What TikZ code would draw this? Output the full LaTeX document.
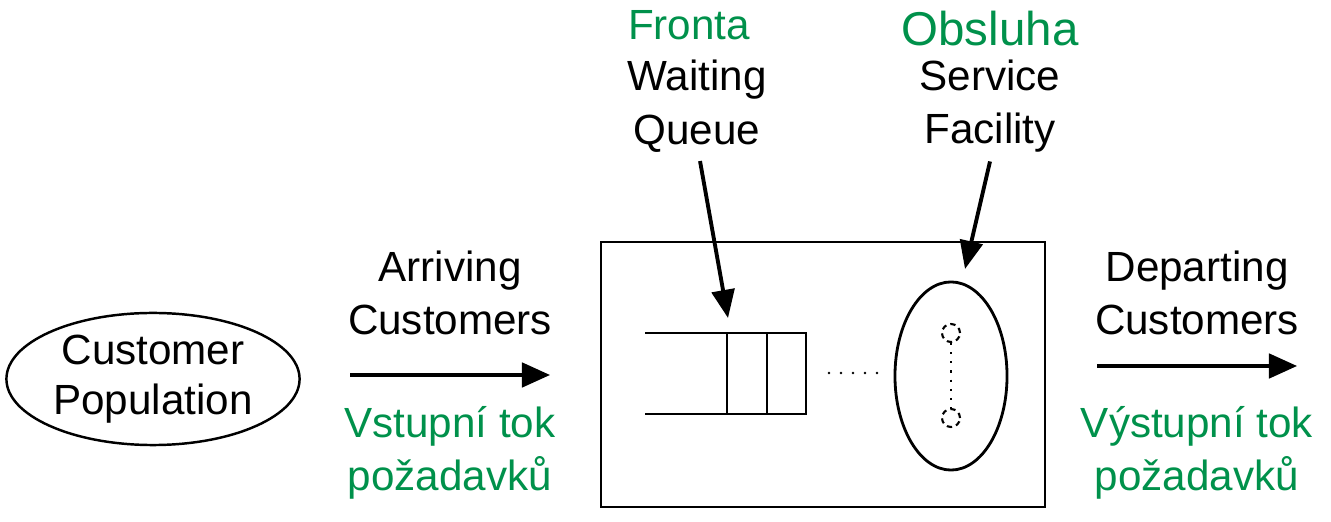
\documentclass[tikz,border=0pt]{standalone}
\usepackage{fontspec}
\setmainfont{Liberation Sans}
\usepackage{xcolor}
\usetikzlibrary{arrows.meta,shapes.geometric,positioning}
\definecolor{czgreen}{RGB}{0,145,75}

\begin{document}
\begin{tikzpicture}[x=0.01cm,y=-0.01cm,
	label/.style={align=center, inner sep=0pt, font=\fontsize{12}{15.2}\selectfont},
	czlabel/.style={label, text=czgreen},
	flow/.style={line width=0.9pt, -{Triangle[length=8pt,width=7pt]}},
	pointer/.style={line width=1.1pt, -{Triangle[length=8pt,width=6.5pt]}},
	server/.style={circle, draw, dash pattern=on 1.5pt off 1.2pt, line width=0.6pt, minimum size=0.18cm, inner sep=0pt},
	every path/.style={line width=0.6pt}]
	\useasboundingbox (0,0) rectangle (1331,522);

	% population
	\node[ellipse, draw, line width=0.7pt, minimum width=2.93cm, minimum height=1.32cm, label,
		font=\fontsize{12}{14.2}\selectfont] (population) at (153,379) {Customer\\Population};

	% arriving customers
	\coordinate (arrA) at (350,375);
	\coordinate (arrB) at (550,375);
	\draw[flow] (arrA) -- (arrB);
	\node[label] (arriving) at (450,293) {Arriving\\Customers};
	\node[czlabel] (vstup) at (450,453) {Vstupní tok\\požadavků};

	% queueing system
	\node[draw, line width=0.7pt, minimum width=4.44cm, minimum height=2.65cm, inner sep=0pt] (system) at (823,374.5) {};

	% waiting queue
	\draw (645,333) -- (806,333) -- (806,414) -- (645,414);
	\draw (727,333) -- (727,414);
	\draw (767,333) -- (767,414);
	\coordinate (qtop) at (728,318);
	\foreach \x in {829,841,853,865,877}
		\fill (\x,373) circle (1.3);

	% service facility
	\node[ellipse, draw, line width=0.8pt, minimum width=1.12cm, minimum height=1.88cm] (facility) at (951,376) {};
	\node[server] (srvA) at (951,333) {};
	\node[server] (srvB) at (951,418) {};
	\draw[dotted, line width=0.8pt] (srvA) -- (srvB);
	\coordinate (ftop) at (965,269);

	% labels above
	\node[czlabel] (fronta) at (689,25) {Fronta};
	\node[label] (queue) at (697,106) {Waiting\\Queue};
	\node[czlabel, font=\fontsize{13.5}{16}\selectfont] (obsluha) at (990,29) {Obsluha};
	\node[label] (service) at (990,106) {Service\\Facility};
	\draw[pointer] (queue.south) ++(3,8) coordinate (qfrom) -- (qtop);
	\draw[pointer] (service.south) ++(0,8) coordinate (ffrom) -- (ftop);

	% departing customers
	\coordinate (depA) at (1097,366);
	\coordinate (depB) at (1297,366);
	\draw[flow] (depA) -- (depB);
	\node[label] (departing) at (1197,293) {Departing\\Customers};
	\node[czlabel] (vystup) at (1197,453) {Výstupní tok\\požadavků};
\end{tikzpicture}
\end{document}
